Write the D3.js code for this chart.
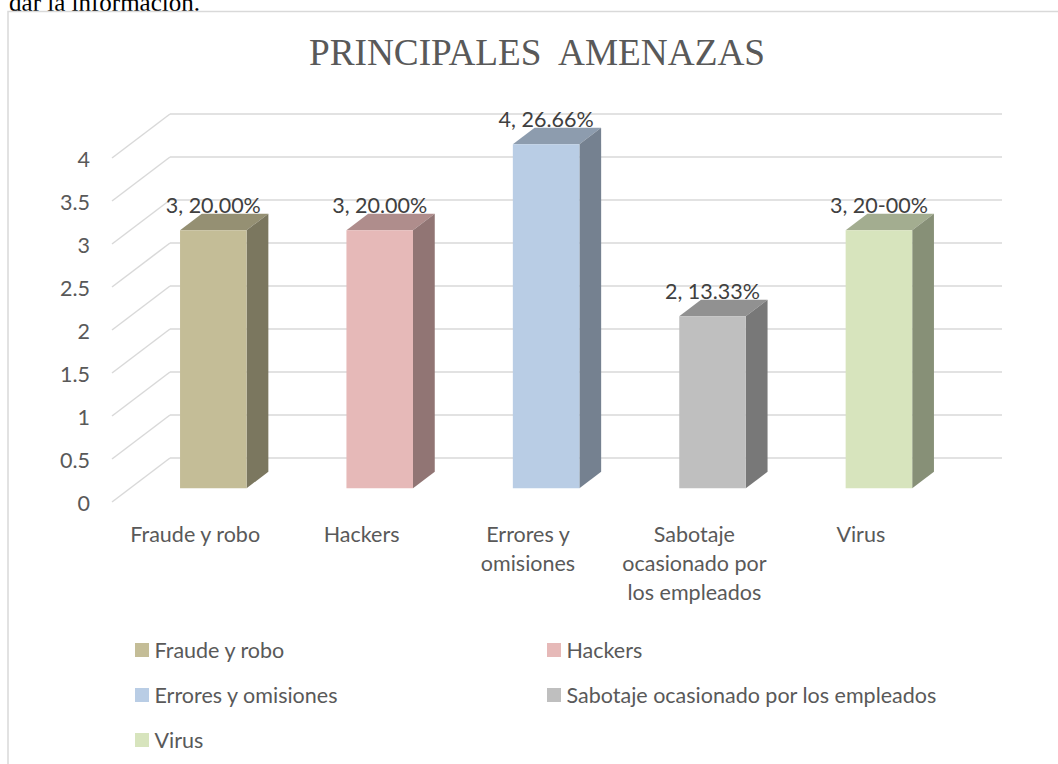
<!DOCTYPE html>
<html><head><meta charset="utf-8">
<script src="https://cdn.jsdelivr.net/npm/d3@7"></script>
<style>
body{margin:0;background:#fff}
svg{display:block}
.lbl{font-family:Lato,"Noto Sans",sans-serif}
</style>
</head><body>
<svg id="c" width="1058" height="764"></svg>
<script>
// ---- data ----
const categories = ["Fraude y robo", "Hackers", "Errores y omisiones", "Sabotaje ocasionado por los empleados", "Virus"];
const values = [3, 3, 4, 2, 3];
const percentLabels = ["20.00%", "20.00%", "26.66%", "13.33%", "20-00%"];
const yTicks = [0, 0.5, 1, 1.5, 2, 2.5, 3, 3.5, 4];
const colors = ["#C4BD97", "#E6B9B8", "#B9CDE5", "#BFBFBF", "#D7E4BD"];
const title = "PRINCIPALES  AMENAZAS";
const precedingText = "dar la información.";

// ---- layout ----
const svg = d3.select("#c");
const FS = 21.5;
const depth = {dx: 58, dy: -44};
const f0 = 0.3125, f1 = 0.6875;

const y = d3.scaleLinear().domain([0, 4]).range([502, 158]);
const x = d3.scaleBand().domain(categories).range([112, 944]).paddingInner(0.6).paddingOuter(0.3);
const step = x.step();
const catCenter = (c) => 112 + (categories.indexOf(c) + 0.5) * step;

function shade(c, k) {
  const r = d3.rgb(c);
  return d3.rgb(r.r * k, r.g * k, r.b * k).formatHex();
}

// preceding document text (clipped)
svg.append("text").attr("x", 200).attr("y", 11).attr("text-anchor", "end")
  .attr("font-family", "'Liberation Serif','Times New Roman',serif").attr("font-size", 25)
  .attr("fill", "#000").text(precedingText);

// chart frame
svg.append("rect").attr("x", 8).attr("y", 11.5).attr("width", 1100).attr("height", 800)
  .attr("fill", "#fff").attr("stroke", "#d9d9d9").attr("stroke-width", 1.5);

// title
svg.append("text").attr("x", 309).attr("y", 64.5)
  .attr("font-family", "'Liberation Serif','Times New Roman',serif").attr("font-size", 37.3)
  .attr("fill", "#595959").attr("textLength", 456).attr("lengthAdjust", "spacingAndGlyphs")
  .style("white-space", "pre").text(title);

// gridlines: side wall diagonals + back wall horizontals
const grid = svg.append("g").attr("stroke", "#d9d9d9").attr("stroke-width", 1.5).attr("fill", "none");
yTicks.forEach(t => {
  const fy = y(t);
  grid.append("line").attr("x1", 112).attr("y1", fy).attr("x2", 112 + depth.dx).attr("y2", fy + depth.dy);
  grid.append("line").attr("x1", 112 + depth.dx).attr("y1", fy + depth.dy)
    .attr("x2", 944 + depth.dx).attr("y2", fy + depth.dy);
});

// y tick labels
svg.append("g").selectAll("text").data(yTicks).join("text").attr("class", "lbl")
  .attr("x", 90).attr("y", d => y(d) + 8.5).attr("text-anchor", "end")
  .attr("font-size", FS).attr("fill", "#595959").text(d => String(d));

// bars
const bars = svg.append("g");
categories.forEach((c, i) => {
  const v = values[i];
  const x0 = x(c) + depth.dx * f0, x1 = x0 + x.bandwidth();
  const yb = y(0) + depth.dy * f0, yt = y(v) + depth.dy * f0;
  const ddx = depth.dx * (f1 - f0), ddy = depth.dy * (f1 - f0);
  const col = colors[i];
  bars.append("path").attr("fill", shade(col, 0.76))
    .attr("d", `M${x0},${yt}L${x1},${yt}L${x1 + ddx},${yt + ddy}L${x0 + ddx},${yt + ddy}Z`);
  bars.append("path").attr("fill", shade(col, 0.63))
    .attr("d", `M${x1},${yt}L${x1},${yb}L${x1 + ddx},${yb + ddy}L${x1 + ddx},${yt + ddy}Z`);
  bars.append("rect").attr("x", x0).attr("y", yt).attr("width", x1 - x0).attr("height", yb - yt).attr("fill", col);
  svg.append("text").attr("class", "lbl").attr("x", (x0 + x1) / 2).attr("y", yt - 17.5)
    .attr("text-anchor", "middle").attr("font-size", FS).attr("fill", "#404040")
    .text(v + ", " + percentLabels[i]);
});

// category labels with wrapping
const catG = svg.append("g");
categories.forEach(c => {
  const t = catG.append("text").attr("class", "lbl").attr("font-size", FS).attr("fill", "#595959")
    .attr("text-anchor", "middle");
  const words = c.split(" ");
  let lines = [], cur = [];
  const probe = catG.append("text").attr("class", "lbl").attr("font-size", FS);
  words.forEach(w => {
    const test = cur.concat([w]).join(" ");
    probe.text(test);
    if (probe.node().getComputedTextLength() > 158 && cur.length) { lines.push(cur.join(" ")); cur = [w]; }
    else cur.push(w);
  });
  lines.push(cur.join(" "));
  probe.remove();
  lines.forEach((ln, k) => {
    t.append("tspan").attr("x", catCenter(c)).attr("y", 541.7 + k * 29).text(ln);
  });
});

// legend
const legend = svg.append("g");
categories.forEach((c, i) => {
  const col = i % 2, row = Math.floor(i / 2);
  const lx = col === 0 ? 135 : 547, ly = 650 + row * 45;
  legend.append("rect").attr("x", lx).attr("y", ly - 7).attr("width", 14).attr("height", 14).attr("fill", colors[i]);
  legend.append("text").attr("class", "lbl").attr("x", lx + 19.5).attr("y", ly + 7.5)
    .attr("font-size", FS).attr("fill", "#595959").text(c);
});
</script>
</body></html>
